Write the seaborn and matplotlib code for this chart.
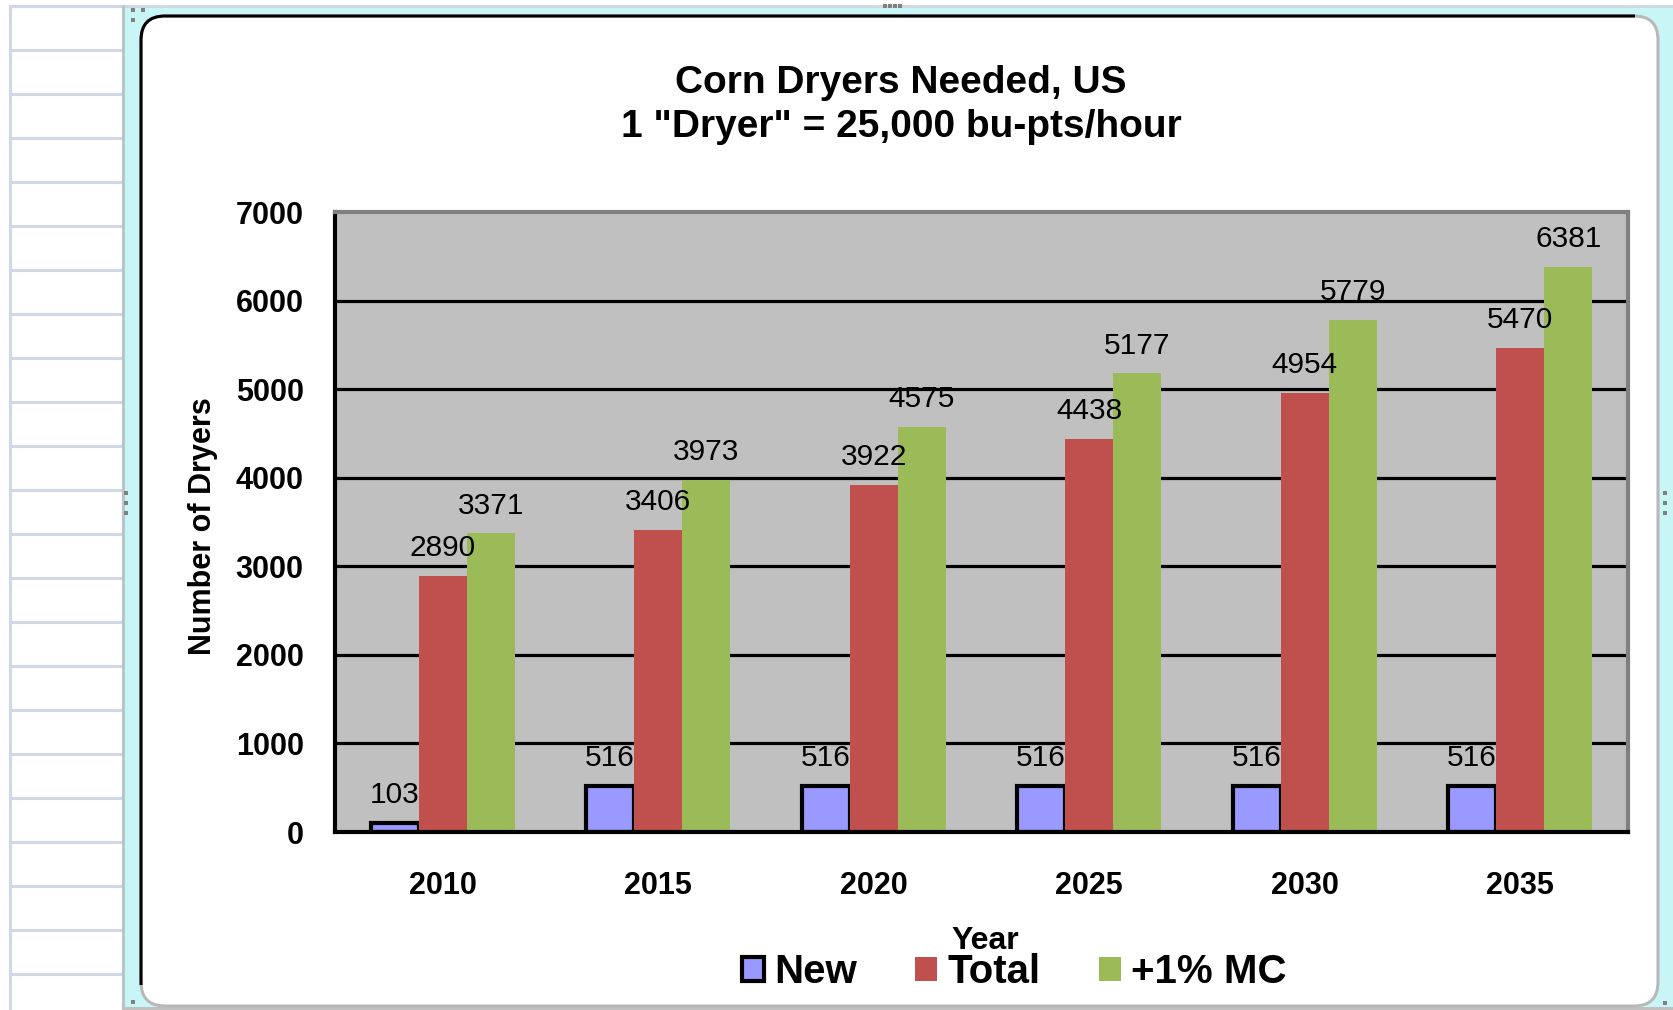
import numpy as np
import pandas as pd
import seaborn as sns
import matplotlib.pyplot as plt
from matplotlib.patches import FancyBboxPatch, Rectangle, Patch
from matplotlib.lines import Line2D
from matplotlib.transforms import Affine2D, Bbox

# Daten aus dem Diagramm
years = ["2010", "2015", "2020", "2025", "2030", "2035"]
new_dryers = [103, 516, 516, 516, 516, 516]
total_dryers = [2890, 3406, 3922, 4438, 4954, 5470]
plus_mc = [3371, 3973, 4575, 5177, 5779, 6381]
series = ["New", "Total", "+1% MC"]
colors = ["#9999FF", "#C0504D", "#9BBB59"]
y_ticks = [0, 1000, 2000, 3000, 4000, 5000, 6000, 7000]

df = pd.DataFrame({
    "Year": years * 3,
    "Dryers": new_dryers + total_dryers + plus_mc,
    "Series": [s for s in series for _ in years],
})

sns.set_style("white")
plt.rcParams["font.family"] = ["Liberation Sans", "DejaVu Sans"]
plt.rcParams["text.color"] = "black"
plt.rcParams["axes.labelcolor"] = "black"
plt.rcParams["xtick.color"] = "black"
plt.rcParams["ytick.color"] = "black"

W, H = 1673, 1010
fig = plt.figure(figsize=(W / 100, H / 100), dpi=100)
fig.patch.set_facecolor("white")

# pixel coordinates, y from the top
px = Affine2D().scale(1 / W, -1 / H).translate(0, 1) + fig.transFigure

# spreadsheet background
grid_col = "#D0D7E5"
fig.add_artist(Rectangle((123, 7), W - 123, H - 7, transform=px,
                         facecolor="#C8F6F6", edgecolor="none", zorder=0))
for y in range(6, H, 44):
    fig.add_artist(Line2D([10, 123], [y, y], transform=px, color=grid_col, lw=2.2, zorder=0.5))
fig.add_artist(Line2D([10, W], [6, 6], transform=px, color=grid_col, lw=2.2, zorder=0.5))
fig.add_artist(Line2D([10, 10], [6, H], transform=px, color=grid_col, lw=2.2, zorder=0.5))
fig.add_artist(Line2D([123, 123], [6, H], transform=px, color="#B8C4C8", lw=2.2, zorder=0.5))
fig.add_artist(Line2D([123, W], [1008, 1008], transform=px, color="#C0C0C0", lw=2.2, zorder=0.5))

# chart area with rounded corners
fig.add_artist(FancyBboxPatch((141, 16), 1517, 990, boxstyle="round,pad=0,rounding_size=24",
                              transform=px, facecolor="white", edgecolor="#B8B8B8", lw=2.2, zorder=1))
dark = FancyBboxPatch((141, 16), 1517, 990, boxstyle="round,pad=0,rounding_size=24",
                      transform=px, facecolor="none", edgecolor="black", lw=2.2, zorder=1.1)
fig.add_artist(dark)
dark.set_clip_box(Bbox([[0, H - 985], [1635, H]]))

# selection handles
for hx, hy in [(133, 10), (143, 10), (133, 20), (133, 1002), (1665, 1003),
               (885, 6), (890, 6), (895, 6), (900, 6),
               (126, 493), (126, 503), (126, 513), (1665, 493), (1665, 503), (1665, 513)]:
    fig.add_artist(Rectangle((hx - 2, hy - 2), 4, 4, transform=px,
                             facecolor="#808080", edgecolor="none", zorder=2))

ax = fig.add_axes([335 / W, 1 - 832 / H, (1628 - 335) / W, 620 / H])
ax.set_zorder(3)

sns.barplot(data=df, x="Year", y="Dryers", hue="Series", palette=colors,
            width=0.67, saturation=1, linewidth=0, legend=False, ax=ax)

for bar in ax.containers[0]:
    bar.set_edgecolor("black")
    bar.set_linewidth(3)

for cont, vals in zip(ax.containers, [new_dryers, total_dryers, plus_mc]):
    ax.bar_label(cont, labels=[str(v) for v in vals], padding=10, fontsize=21.5, color="black")

ax.set_facecolor("#C0C0C0")
ax.set_ylim(0, 7000)
ax.set_xlim(-0.5, 5.5)
ax.set_yticks(y_ticks)
ax.set_yticklabels([str(t) for t in y_ticks], fontsize=22, fontweight="bold")
ax.set_xticks(range(len(years)))
ax.set_xticklabels(years, fontsize=22, fontweight="bold")
ax.set_xticks(np.arange(-0.5, len(years)), minor=True)
ax.tick_params(axis="y", direction="out", length=9.5, width=2.2, color="black",
               labelcolor="black", pad=13)
ax.tick_params(axis="x", which="major", length=0, pad=28, labelcolor="black")
ax.tick_params(axis="x", which="minor", direction="out", length=9.5, width=2.2, color="black")
ax.set_xlabel("")
ax.set_ylabel("")

ax.yaxis.grid(True, color="black", lw=2.3)
ax.xaxis.grid(False)
ax.set_axisbelow(True)
ax.get_ygridlines()[0].set_visible(False)
ax.get_ygridlines()[-1].set_visible(False)

for side in ["left", "bottom"]:
    ax.spines[side].set_color("black")
    ax.spines[side].set_linewidth(3)
for side in ["top", "right"]:
    ax.spines[side].set_color("#808080")
    ax.spines[side].set_linewidth(3)

# Titel und Achsenbeschriftungen
fig.text(901, 93, "Corn Dryers Needed, US", transform=px, ha="center", va="baseline",
         fontsize=28, fontweight="bold", color="black", zorder=4)
fig.text(901, 137, '1 "Dryer" = 25,000 bu-pts/hour', transform=px, ha="center", va="baseline",
         fontsize=28, fontweight="bold", color="black", zorder=4)
fig.text(203, 526, "Number of Dryers", transform=px, rotation=90, ha="center", va="center",
         fontsize=22, fontweight="bold", color="black", zorder=4)
fig.text(985, 949, "Year", transform=px, ha="center", va="baseline",
         fontsize=23, fontweight="bold", color="black", zorder=4)

handles = [
    Patch(facecolor=colors[0], edgecolor="black", linewidth=3),
    Patch(facecolor=colors[1], edgecolor="none"),
    Patch(facecolor=colors[2], edgecolor="none"),
]
leg = fig.legend(handles, series, loc="center", bbox_to_anchor=(1014 / W, 1 - 972 / H),
                 ncol=3, frameon=False, prop={"size": 29, "weight": "bold"},
                 handlelength=0.55, handleheight=0.55, handletextpad=0.25,
                 columnspacing=1.45, borderpad=0, borderaxespad=0, labelcolor="black")
leg.set_zorder(5)

fig.savefig("out.png", dpi=100)
